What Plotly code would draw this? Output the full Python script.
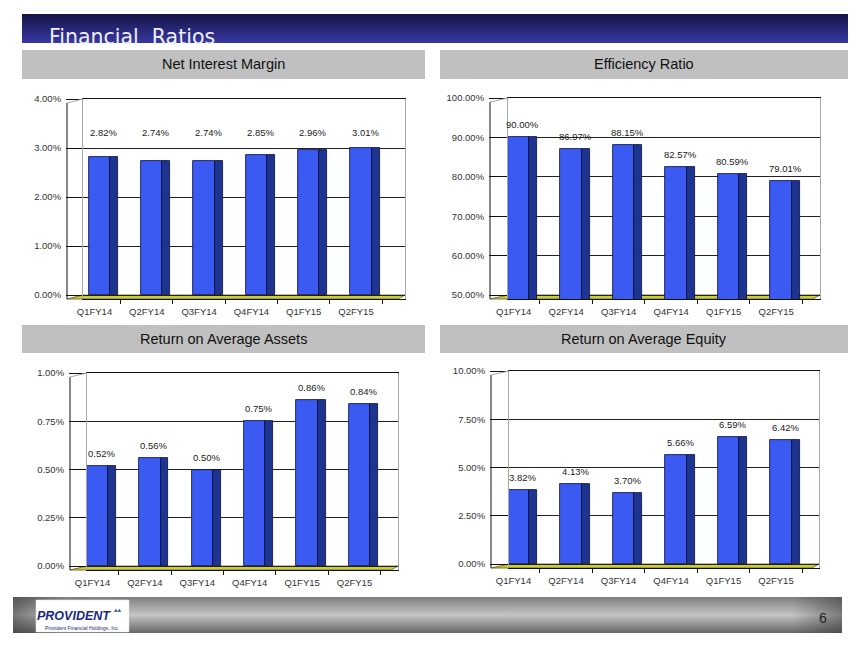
#!/usr/bin/env python3
"""
Financial Ratios slide: four pseudo-3D bar panels (Plotly).
"""

import base64
import plotly.graph_objects as go

# ─────────────────────────── data ────────────────────────────────────────────
quarters = ["Q1FY14", "Q2FY14", "Q3FY14", "Q4FY14", "Q1FY15", "Q2FY15"]

net_interest_margin = [2.82, 2.74, 2.74, 2.85, 2.96, 3.01]
efficiency_ratio = [90.00, 86.97, 88.15, 82.57, 80.59, 79.01]
return_avg_assets = [0.52, 0.56, 0.50, 0.75, 0.86, 0.84]
return_avg_equity = [3.82, 4.13, 3.70, 5.66, 6.59, 6.42]

panel_titles = ["Net Interest Margin", "Efficiency Ratio",
                "Return on Average Assets", "Return on Average Equity"]

W, H = 864, 648
FRONT = "#3A5AF2"
SIDE = "#1D3590"
EDGE = "#0B0B3A"
FLOOR = "#CDCD38"


def px(x):
    return x / W


def py(y):
    return 1 - y / H


def svg_uri(svg):
    return "data:image/svg+xml;base64," + base64.b64encode(svg.encode()).decode()


# panel geometry in pixels: wall left/right, wall top/bottom, front axis x,
# first category centre, category spacing
panels = [
    dict(vals=net_interest_margin, yr=(0, 4), dt=1, x0=83, x1=405, y0=99, y1=295,
         fx=67, c0=94.5, sp=52.3, same_level=True),
    dict(vals=efficiency_ratio, yr=(50, 100), dt=10, x0=508, x1=820, y0=98, y1=295,
         fx=490, c0=513.7, sp=52.5, same_level=False),
    dict(vals=return_avg_assets, yr=(0, 1), dt=0.25, x0=87, x1=398, y0=373, y1=566,
         fx=70, c0=92.5, sp=52.4, same_level=False),
    dict(vals=return_avg_equity, yr=(0, 10), dt=2.5, x0=509, x1=819, y0=371, y1=564,
         fx=491, c0=513.5, sp=52.5, same_level=False),
]

fig = go.Figure()
shapes, annotations, layout_axes = [], [], {}
tick_font = dict(family="Liberation Sans, Arial", size=9.5, color="#333333")

for i, p in enumerate(panels, start=1):
    xa, ya = f"x{i}", f"y{i}"
    lo, hi = p["yr"]
    depth = 4  # px between back wall and front edge
    span = p["y1"] - p["y0"]
    ylo = lo - depth / span * (hi - lo)
    xlo = (p["x0"] - p["c0"]) / p["sp"]
    xhi = (p["x1"] - p["c0"]) / p["sp"]
    tvals = [lo + k * p["dt"] for k in range(int(round((hi - lo) / p["dt"])) + 1)]

    # front face and side face of each bar
    fig.add_trace(go.Bar(
        x=quarters, y=p["vals"],
        offset=-0.11, width=0.41, marker=dict(color=FRONT, line=dict(color=EDGE, width=0.8)),
        xaxis=xa, yaxis=ya, showlegend=False, hoverinfo="skip",
    ))
    fig.add_trace(go.Bar(
        x=quarters, y=p["vals"], offset=0.30, width=0.15,
        marker=dict(color=SIDE, line=dict(color=EDGE, width=0.8)),
        xaxis=xa, yaxis=ya, showlegend=False, hoverinfo="skip",
    ))

    top = max(p["vals"])
    for q, v in zip(quarters, p["vals"]):
        annotations.append(dict(
            x=q, y=top if p["same_level"] else v, xref=xa, yref=ya,
            text=f"{v:.2f}%", showarrow=False, xshift=9, xanchor="center",
            yshift=8 if p["same_level"] else 5, yanchor="bottom",
            font=dict(family="Liberation Sans, Arial", size=9.5, color="#222222"),
        ))

    sfx = "" if i == 1 else str(i)
    layout_axes[f"xaxis{sfx}"] = dict(
        domain=[px(p["x0"]), px(p["x1"])], anchor=ya, range=[xlo, xhi],
        type="category", showgrid=False, showline=True, mirror=True,
        linecolor="#111111", linewidth=1, ticks="outside", tickson="boundaries",
        ticklen=4, tickcolor="#111111", tickfont=tick_font, ticklabelstandoff=4,
        fixedrange=True, automargin=False,
    )
    layout_axes[f"yaxis{sfx}"] = dict(
        domain=[py(p["y1"] + depth), py(p["y0"])], anchor=xa, range=[ylo, hi],
        tickvals=tvals, ticktext=[f"{v:.2f}%" for v in tvals],
        showgrid=True, gridcolor="#222222",
        gridwidth=1, zeroline=False, showline=True, mirror=True,
        linecolor="#A8A8A8", linewidth=1, ticks="outside",
        ticklen=p["x0"] - p["fx"], tickcolor="#111111", tickfont=tick_font,
        ticklabelstandoff=3, fixedrange=True, automargin=False,
    )

    # floor slab and front vertical axis
    yb, yf = p["y1"], p["y1"] + depth
    shapes.append(dict(
        type="path", xref="paper", yref="paper", layer="below",
        path=(f"M {px(p['fx'])},{py(yf)} L {px(p['x1'] - 7)},{py(yf)} "
              f"L {px(p['x1'])},{py(yb)} L {px(p['x0'])},{py(yb)} Z"),
        fillcolor=FLOOR, line=dict(color="#5A5A20", width=0.8),
    ))
    shapes.append(dict(
        type="line", xref="paper", yref="paper",
        x0=px(p["fx"]), x1=px(p["fx"]), y0=py(p["y0"] + depth), y1=py(yf),
        line=dict(color="#111111", width=1),
    ))
    shapes.append(dict(
        type="line", xref="paper", yref="paper",
        x0=px(p["fx"]), x1=px(p["x0"]), y0=py(p["y0"] + depth), y1=py(p["y0"]),
        line=dict(color="#A8A8A8", width=1),
    ))

# ─────────────────────────── slide furniture ─────────────────────────────────
title_boxes = [(22, 425, 50, 79), (440, 848, 50, 79),
               (22, 425, 325, 353), (440, 848, 325, 353)]
for (bx0, bx1, by0, by1), t in zip(title_boxes, panel_titles):
    shapes.append(dict(type="rect", xref="paper", yref="paper", layer="below",
                       x0=px(bx0), x1=px(bx1), y0=py(by1), y1=py(by0),
                       fillcolor="#C0C0C0", line=dict(width=0)))
    annotations.append(dict(x=px((bx0 + bx1) / 2), y=py((by0 + by1) / 2),
                            xref="paper", yref="paper", text=t, showarrow=False,
                            xanchor="center", yanchor="middle",
                            font=dict(family="Liberation Sans, Arial", size=14.5,
                                      color="#111111")))

header_svg = (
    '<svg xmlns="http://www.w3.org/2000/svg" viewBox="0 0 100 10" '
    'preserveAspectRatio="none"><defs><linearGradient id="g" x1="0" y1="0" x2="0" y2="1">'
    '<stop offset="0" stop-color="#141446"/><stop offset="1" stop-color="#3838A4"/>'
    '</linearGradient></defs><rect width="100" height="10" fill="url(#g)"/></svg>'
)
footer_svg = (
    '<svg xmlns="http://www.w3.org/2000/svg" viewBox="0 0 100 10" '
    'preserveAspectRatio="none"><defs>'
    '<linearGradient id="v" x1="0" y1="0" x2="0" y2="1">'
    '<stop offset="0" stop-color="#7E7E7E"/><stop offset="0.5" stop-color="#C4C4C4"/>'
    '<stop offset="1" stop-color="#666666"/></linearGradient>'
    '<linearGradient id="h" x1="0" y1="0" x2="1" y2="0">'
    '<stop offset="0" stop-color="#333333" stop-opacity="0.55"/>'
    '<stop offset="0.06" stop-color="#333333" stop-opacity="0"/>'
    '<stop offset="0.94" stop-color="#333333" stop-opacity="0"/>'
    '<stop offset="1" stop-color="#333333" stop-opacity="0.5"/></linearGradient>'
    '</defs><rect width="100" height="10" fill="url(#v)"/>'
    '<rect width="100" height="10" fill="url(#h)"/></svg>'
)
images = [
    dict(source=svg_uri(header_svg), xref="paper", yref="paper",
         x=px(22), y=py(14), sizex=px(848) - px(22), sizey=(43 - 14) / H,
         xanchor="left", yanchor="top", sizing="stretch", layer="below"),
    dict(source=svg_uri(footer_svg), xref="paper", yref="paper",
         x=px(13), y=py(597), sizex=px(842) - px(13), sizey=(633 - 597) / H,
         xanchor="left", yanchor="top", sizing="stretch", layer="below"),
]

shapes.append(dict(type="rect", xref="paper", yref="paper",
                   x0=px(36), x1=px(129), y0=py(632), y1=py(600),
                   fillcolor="white", line=dict(color="#E0E0E0", width=0.5)))

annotations += [
    dict(x=px(47), y=py(51), xref="paper", yref="paper", xanchor="left",
         yanchor="bottom", text="Financial  Ratios", showarrow=False,
         font=dict(family="DejaVu Sans, Verdana", size=20.5, color="#EEEEF6")),
    dict(x=px(35), y=py(616), xref="paper", yref="paper", xanchor="left",
         yanchor="middle", text="<b><i>PROVIDENT</i></b>", showarrow=False,
         font=dict(family="Liberation Sans, Arial", size=12.5, color="#1B2A80")),
    dict(x=px(118), y=py(610), xref="paper", yref="paper", xanchor="center",
         yanchor="middle", text="▴▴", showarrow=False,
         font=dict(family="DejaVu Sans", size=7, color="#4A5A9A")),
    dict(x=px(82), y=py(628), xref="paper", yref="paper", xanchor="center",
         yanchor="middle", text="Provident Financial Holdings, Inc.", showarrow=False,
         font=dict(family="Liberation Sans, Arial", size=5, color="#1B2A80")),
    dict(x=px(823), y=py(618), xref="paper", yref="paper", xanchor="center",
         yanchor="middle", text="6", showarrow=False,
         font=dict(family="Liberation Sans Narrow, Liberation Sans", size=14,
                   color="#222222")),
]

fig.update_layout(
    width=W, height=H, margin=dict(l=0, r=0, t=0, b=0),
    paper_bgcolor="white", plot_bgcolor="white",
    barmode="overlay", bargap=0,
    shapes=shapes, annotations=annotations, images=images,
    **layout_axes,
)

# page body has a default margin; drop it so the figure sits at the window origin
fig.write_html("out.html", config={"displayModeBar": False},
               post_script="document.body.style.margin='0';"
                           "document.body.style.overflow='hidden';")
